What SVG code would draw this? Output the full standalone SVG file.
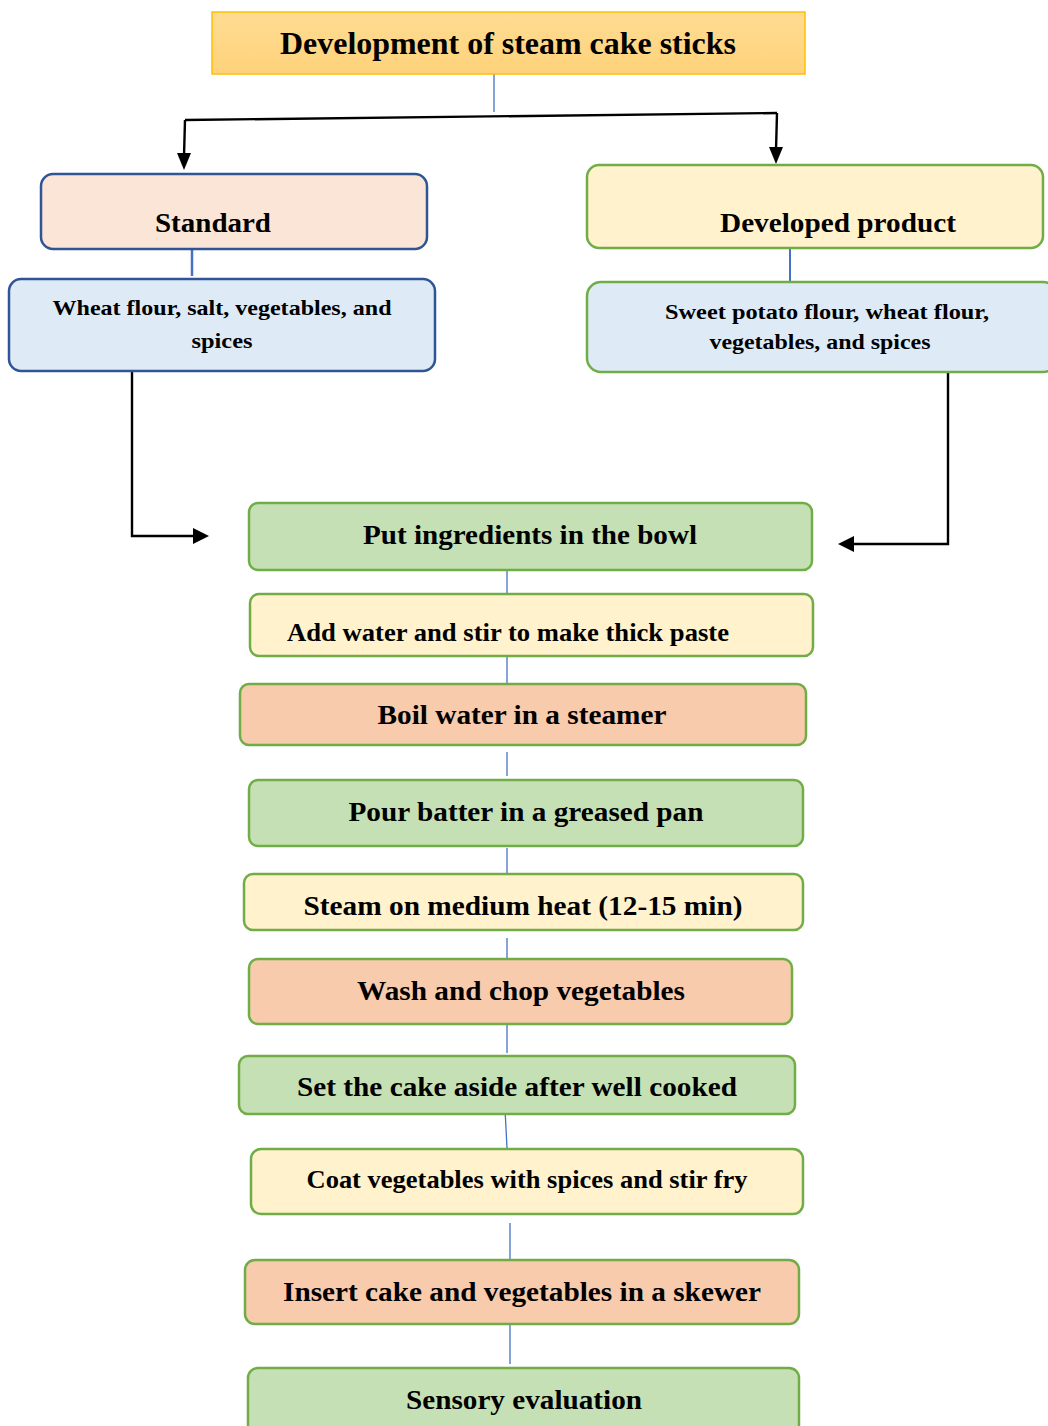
<svg xmlns="http://www.w3.org/2000/svg" width="1048" height="1426" viewBox="0 0 1048 1426">
  <style>
    text { font-family: "Liberation Serif", "Times New Roman", serif; font-weight: bold; fill: #000; text-anchor: middle; }
    .t30 { font-size: 31px; }
    .t28 { font-size: 28px; }
    .t26 { font-size: 26px; }
    .t22 { font-size: 22px; }
    .blue { stroke: #2f5597; stroke-width: 2.5; }
    .green { stroke: #70ad47; stroke-width: 2.5; }
    .link { stroke: #4472c4; stroke-width: 1.3; fill: none; }
    .arrow { stroke: #000; stroke-width: 2.4; fill: none; }
    .head { fill: #000; }
    .peach { fill: #fbe5d6; }
    .ice { fill: #deebf7; }
    .cream { fill: #fff2cc; }
    .leaf { fill: #c5e0b4; }
    .salmon { fill: #f8cbad; }
  </style>
  <defs>
    <linearGradient id="titleFill" x1="0" y1="0" x2="0" y2="1">
      <stop offset="0" stop-color="#ffdc93"/>
      <stop offset="1" stop-color="#fed27a"/>
    </linearGradient>
  </defs>

  <!-- connectors -->
  <g id="connectors">
    <line class="link" x1="494" y1="72" x2="494" y2="112"/>
    <path class="arrow" d="M185,120 L777,113"/>
    <path class="arrow" d="M185,120 L184,156"/>
    <path class="arrow" d="M777,113 L776,150"/>
    <path class="head" d="M177,153 L191,153 L184,170 Z"/>
    <path class="head" d="M769,147 L783,147 L776,164 Z"/>
    <line class="link" x1="192" y1="238" x2="192" y2="276" style="stroke-width:2.5"/>
    <line class="link" x1="790" y1="243" x2="790" y2="281" style="stroke-width:2"/>
    <path class="arrow" d="M132,369 L132,536 L196,536"/>
    <path class="head" d="M193,528 L209,536 L193,544 Z"/>
    <path class="arrow" d="M948,373 L948,544 L852,544"/>
    <path class="head" d="M854,536 L838,544 L854,552 Z"/>
    <line class="link" x1="507" y1="563" x2="507" y2="593"/>
    <line class="link" x1="507" y1="657" x2="507" y2="686"/>
    <line class="link" x1="507" y1="752" x2="507" y2="776"/>
    <line class="link" x1="507" y1="848" x2="507" y2="874"/>
    <line class="link" x1="507" y1="938" x2="507" y2="960"/>
    <line class="link" x1="507" y1="1025" x2="507" y2="1053"/>
    <line class="link" x1="505" y1="1109" x2="507" y2="1148"/>
    <line class="link" x1="510" y1="1223" x2="510" y2="1259"/>
    <line class="link" x1="510" y1="1325" x2="510" y2="1364"/>
  </g>

  <g id="title">
    <rect x="212" y="12" width="593" height="62" fill="url(#titleFill)" stroke="#ffc000" stroke-width="1.5"/>
    <text class="t30" x="508" y="54" textLength="456" lengthAdjust="spacingAndGlyphs">Development of steam cake sticks</text>
  </g>

  <g id="standard">
    <rect class="peach blue" x="41" y="174" width="386" height="75" rx="12"/>
    <text class="t28" x="213" y="232" textLength="116" lengthAdjust="spacingAndGlyphs">Standard</text>
  </g>

  <g id="standard-ingredients">
    <rect class="ice blue" x="9" y="279" width="426" height="92" rx="12"/>
    <text class="t22" x="222" y="315" textLength="339" lengthAdjust="spacingAndGlyphs">Wheat flour, salt, vegetables, and</text>
    <text class="t22" x="222" y="348" textLength="61" lengthAdjust="spacingAndGlyphs">spices</text>
  </g>

  <g id="developed">
    <rect class="cream green" x="587" y="165" width="456" height="83" rx="12"/>
    <text class="t28" x="838" y="232" textLength="236" lengthAdjust="spacingAndGlyphs">Developed product</text>
  </g>

  <g id="developed-ingredients">
    <rect class="ice green" x="587" y="282" width="470" height="90" rx="14"/>
    <text class="t22" x="827" y="319" textLength="324" lengthAdjust="spacingAndGlyphs">Sweet potato flour, wheat flour,</text>
    <text class="t22" x="820" y="349" textLength="221" lengthAdjust="spacingAndGlyphs">vegetables, and spices</text>
  </g>

  <g id="step1">
    <rect class="leaf green" x="249" y="503" width="563" height="67" rx="9"/>
    <text class="t28" x="530" y="544" textLength="334" lengthAdjust="spacingAndGlyphs">Put ingredients in the bowl</text>
  </g>

  <g id="step2">
    <rect class="cream green" x="250" y="594" width="563" height="62" rx="9"/>
    <text class="t26" x="508" y="641" textLength="442" lengthAdjust="spacingAndGlyphs">Add water and stir to make thick paste</text>
  </g>

  <g id="step3">
    <rect class="salmon green" x="240" y="684" width="566" height="61" rx="9"/>
    <text class="t28" x="522" y="724" textLength="289" lengthAdjust="spacingAndGlyphs">Boil water in a steamer</text>
  </g>

  <g id="step4">
    <rect class="leaf green" x="249" y="780" width="554" height="66" rx="9"/>
    <text class="t28" x="526" y="821" textLength="355" lengthAdjust="spacingAndGlyphs">Pour batter in a greased pan</text>
  </g>

  <g id="step5">
    <rect class="cream green" x="244" y="874" width="559" height="56" rx="9"/>
    <text class="t28" x="523" y="915" textLength="439" lengthAdjust="spacingAndGlyphs">Steam on medium heat (12-15 min)</text>
  </g>

  <g id="step6">
    <rect class="salmon green" x="249" y="959" width="543" height="65" rx="9"/>
    <text class="t28" x="521" y="1000" textLength="328" lengthAdjust="spacingAndGlyphs">Wash and chop vegetables</text>
  </g>

  <g id="step7">
    <rect class="leaf green" x="239" y="1056" width="556" height="58" rx="9"/>
    <text class="t28" x="517" y="1096" textLength="440" lengthAdjust="spacingAndGlyphs">Set the cake aside after well cooked</text>
  </g>

  <g id="step8">
    <rect class="cream green" x="251" y="1149" width="552" height="65" rx="10"/>
    <text class="t26" x="527" y="1188" textLength="441" lengthAdjust="spacingAndGlyphs">Coat vegetables with spices and stir fry</text>
  </g>

  <g id="step9">
    <rect class="salmon green" x="245" y="1260" width="554" height="64" rx="10"/>
    <text class="t28" x="522" y="1301" textLength="478" lengthAdjust="spacingAndGlyphs">Insert cake and vegetables in a skewer</text>
  </g>

  <g id="step10">
    <rect class="leaf green" x="248" y="1368" width="551" height="72" rx="10"/>
    <text class="t28" x="524" y="1409" textLength="236" lengthAdjust="spacingAndGlyphs">Sensory evaluation</text>
  </g>
</svg>
